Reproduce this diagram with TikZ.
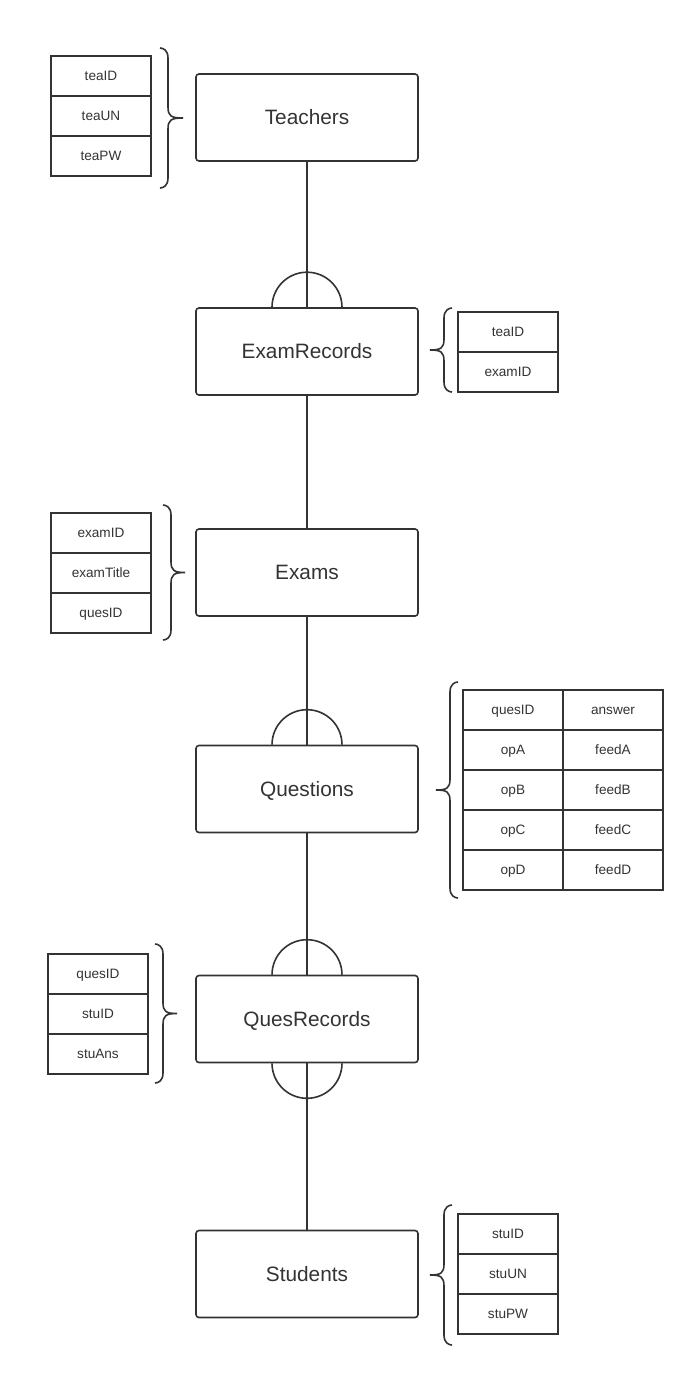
\documentclass[tikz,border=0pt]{standalone}
\usepackage{fontspec}
\setmainfont{Liberation Sans}
\definecolor{ink}{HTML}{333333}
% #1 x of brace ends, #2 top y, #3 bottom y, #4 direction (1 = tip right, -1 = tip left), #5 tip offset
\newcommand\myBrace[5]{%
  \pgfmathsetmacro\bS{#1+8*#4}%
  \pgfmathsetmacro\bC{#1+3*#4}%
  \pgfmathsetmacro\bK{#1+11*#4}%
  \pgfmathsetmacro\bT{#1+#5*#4}%
  \pgfmathsetmacro\bM{(#2+#3)/2}%
  \draw[link] (#1,#2) .. controls (\bC,#2) and (\bS,#2+2) .. (\bS,#2+10) -- (\bS,\bM-11)
    .. controls (\bS,\bM-2) and (\bK,\bM) .. (\bT,\bM) .. controls (\bK,\bM) and (\bS,\bM+2) .. (\bS,\bM+11)
    -- (\bS,#3-10) .. controls (\bS,#3-2) and (\bC,#3) .. (#1,#3);}
\begin{document}
\begin{tikzpicture}[x=1pt,y=-1pt,
  entity/.style={draw=ink, line width=1.6pt, rounded corners=3pt, minimum width=222pt, minimum height=87pt, inner sep=0pt, text height=14.9pt, text depth=0pt, font=\fontsize{20.8}{24}\selectfont, text=ink},
  cell/.style={draw=ink, line width=1.6pt, minimum width=100pt, minimum height=40pt, inner sep=0pt, text height=9.7pt, text depth=0pt, font=\fontsize{13.6}{16}\selectfont, text=ink},
  link/.style={draw=ink, line width=1.6pt}]
\useasboundingbox (0,0) rectangle (695,1377);
% entities
\node[entity] (teachers) at (307,117.5) {Teachers};
\node[entity] (exrec) at (307,351.5) {ExamRecords};
\node[entity] (exams) at (307,572.5) {Exams};
\node[entity] (questions) at (307,789) {Questions};
\node[entity] (quesrec) at (307,1019) {QuesRecords};
\node[entity] (students) at (307,1274) {Students};
% connectors
\draw[link] (teachers.south) -- (exrec.north);
\draw[link] (exrec.south) -- (exams.north);
\draw[link] (exams.south) -- (questions.north);
\draw[link] (questions.south) -- (quesrec.north);
\draw[link] (quesrec.south) -- (students.north);
% crow arcs
\draw[link] ([xshift=-35pt]exrec.north) arc[start angle=180, end angle=0, radius=35pt];
\draw[link] ([xshift=-35pt]questions.north) arc[start angle=180, end angle=0, radius=35pt];
\draw[link] ([xshift=-35pt]quesrec.north) arc[start angle=180, end angle=0, radius=35pt];
\draw[link] ([xshift=-35pt]quesrec.south) arc[start angle=180, end angle=360, radius=35pt];
% Teachers attributes
\node[cell] (t1) at (101,76) {teaID};
\node[cell] (t2) at (101,116) {teaUN};
\node[cell] (t3) at (101,156) {teaPW};
% ExamRecords attributes
\node[cell] (r1) at (508,332) {teaID};
\node[cell] (r2) at (508,372) {examID};
% Exams attributes
\node[cell] (e1) at (101,533) {examID};
\node[cell] (e2) at (101,573) {examTitle};
\node[cell] (e3) at (101,613) {quesID};
% Questions attributes
\node[cell] (q11) at (513,710) {quesID};
\node[cell] (q12) at (613,710) {answer};
\node[cell] (q21) at (513,750) {opA};
\node[cell] (q22) at (613,750) {feedA};
\node[cell] (q31) at (513,790) {opB};
\node[cell] (q32) at (613,790) {feedB};
\node[cell] (q41) at (513,830) {opC};
\node[cell] (q42) at (613,830) {feedC};
\node[cell] (q51) at (513,870) {opD};
\node[cell] (q52) at (613,870) {feedD};
% QuesRecords attributes
\node[cell] (s1) at (98,974) {quesID};
\node[cell] (s2) at (98,1014) {stuID};
\node[cell] (s3) at (98,1054) {stuAns};
% Students attributes
\node[cell] (u1) at (508,1234) {stuID};
\node[cell] (u2) at (508,1274) {stuUN};
\node[cell] (u3) at (508,1314) {stuPW};
% braces
\myBrace{160}{48}{188}{1}{23}
\myBrace{452}{308}{392}{-1}{22}
\myBrace{163}{505}{640}{1}{22}
\myBrace{458}{682}{898}{-1}{22}
\myBrace{155}{944}{1083}{1}{22}
\myBrace{452}{1205}{1345}{-1}{22}
\end{tikzpicture}
\end{document}
